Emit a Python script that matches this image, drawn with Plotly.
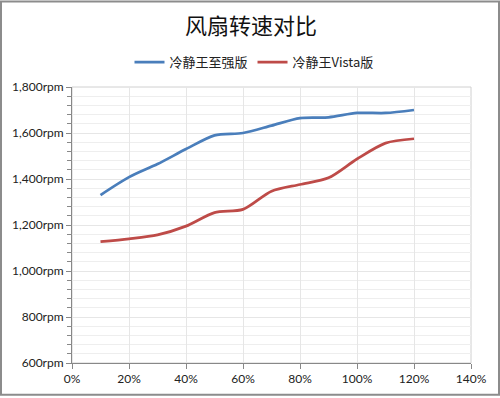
import plotly.graph_objects as go

load_pct = [10, 20, 30, 40, 50, 60, 70, 80, 90, 100, 110, 120]
xeon_rpm = [1330, 1408, 1465, 1530, 1590, 1600, 1632, 1665, 1668, 1687, 1687, 1700]
vista_rpm = [1128, 1140, 1157, 1195, 1254, 1268, 1347, 1376, 1405, 1487, 1556, 1575]
series_names = ["冷静王至强版", "冷静王Vista版"]
x_ticks = [0, 20, 40, 60, 80, 100, 120, 140]
y_ticks = [600, 800, 1000, 1200, 1400, 1600, 1800]

W, H = 500, 398
ML, MR, MT, MB = 72, 29, 87, 33
PW, PH = W - ML - MR, H - MT - MB

font_main = "Lato, 'Noto Sans CJK SC', sans-serif"

fig = go.Figure()
fig.add_trace(go.Scatter(x=load_pct, y=xeon_rpm, name=series_names[0], mode="lines",
                         line=dict(color="#4a7ebb", width=2.75, shape="spline", smoothing=0.8)))
fig.add_trace(go.Scatter(x=load_pct, y=vista_rpm, name=series_names[1], mode="lines",
                         line=dict(color="#be4b48", width=2.75, shape="spline", smoothing=0.8)))

fig.update_layout(
    width=W, height=H,
    margin=dict(l=ML, r=MR, t=MT, b=MB),
    paper_bgcolor="white", plot_bgcolor="white",
    font=dict(family=font_main, size=12, color="#222"),
    title=dict(text="风扇转速对比", x=0.502, xref="container", xanchor="center", y=1 - 26 / H, yanchor="middle",
               font=dict(family="'Noto Sans CJK SC', sans-serif", size=22, color="#111")),
    showlegend=True,
    legend=dict(orientation="h", x=(254 - ML) / PW, xanchor="center", xref="paper", y=1 + (MT - 62) / PH, yanchor="middle",
                font=dict(family="'Noto Sans CJK SC', sans-serif", size=13, color="#222"),
                itemwidth=30, bgcolor="rgba(0,0,0,0)"),
    xaxis=dict(range=[0, 140], tickvals=x_ticks, ticktext=[f"{v}%" for v in x_ticks],
               showgrid=True, gridcolor="#e6e6e6", gridwidth=1,
               showline=True, linecolor="#888", linewidth=1,
               ticks="outside", ticklen=5, tickcolor="#888",
               zeroline=False, tickfont=dict(size=12, color="#222")),
    yaxis=dict(range=[600, 1800], tickvals=y_ticks, ticktext=[f"{v:,}rpm" for v in y_ticks],
               showgrid=True, gridcolor="#e6e6e6", gridwidth=1,
               showline=True, linecolor="#888", linewidth=1,
               ticks="outside", ticklen=5, tickcolor="#888",
               zeroline=False, tickfont=dict(size=12, color="#222"),
               minor=dict(dtick=40, tick0=600, ticks="outside", ticklen=4, tickcolor="#888",
                          showgrid=True, gridcolor="#eeeeee", gridwidth=1)),
)

# plot area border (top/right)
fig.add_shape(type="rect", xref="paper", yref="paper", x0=0, y0=0, x1=1, y1=1,
              line=dict(color="#d0d0d0", width=1), layer="below")
# outer chart border
fig.add_shape(type="rect", xref="paper", yref="paper",
              x0=(1 - ML) / PW, x1=1 + (MR - 1) / PW,
              y0=-(MB - 1) / PH, y1=1 + (MT - 1) / PH,
              line=dict(color="#8c8c8c", width=2))

fig.write_html("out.html", config={"displayModeBar": False},
               post_script="document.body.style.margin='0px';document.body.style.overflow='hidden';")
